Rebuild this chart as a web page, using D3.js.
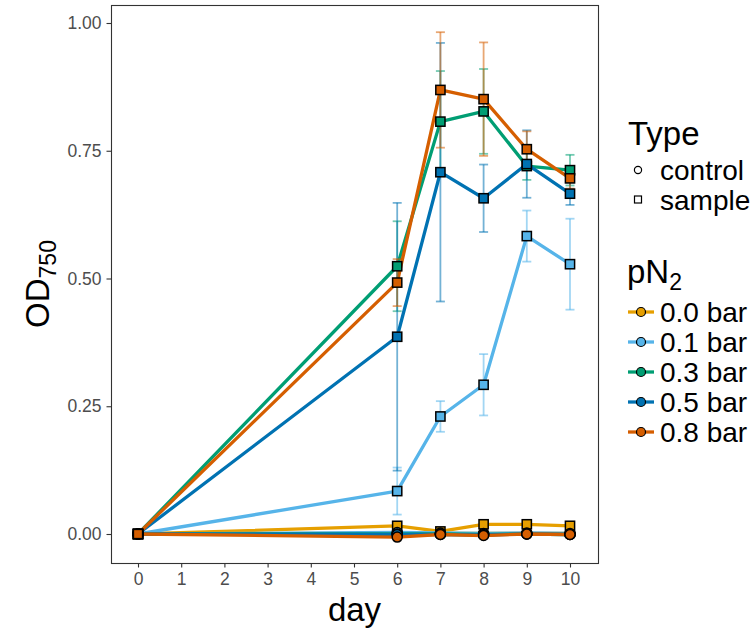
<!DOCTYPE html>
<html>
<head>
<meta charset="utf-8">
<script src="https://cdn.jsdelivr.net/npm/d3@7"></script>
<style>
body { margin: 0; background: #fff; }
text { font-family: "Liberation Sans", Arial, Helvetica, sans-serif; }
</style>
</head>
<body>
<svg id="chart" width="756" height="634"></svg>
<script>
// OD750 growth curves, sample vs control per pN2 level

const days = [0, 6, 7, 8, 9, 10]
const levels = ["0.0 bar", "0.1 bar", "0.3 bar", "0.5 bar", "0.8 bar"]
const colors = ["#E69F00", "#56B4E9", "#009E73", "#0072B2", "#D55E00"]
const types = ["control", "sample"]

// sample means / sd, one row per pN2 level
const sampleMean = [
  [0, 0.016, 0.005, 0.019, 0.019, 0.016],
  [0, 0.084, 0.230, 0.292, 0.583, 0.528],
  [0, 0.524, 0.807, 0.827, 0.720, 0.712],
  [0, 0.386, 0.708, 0.657, 0.724, 0.666],
  [0, 0.492, 0.869, 0.851, 0.753, 0.696]
]
const sampleErr = [
  [0, 0.003, 0.003, 0.003, 0.003, 0.003],
  [0, 0.046, 0.030, 0.060, 0.050, 0.089],
  [0, 0.088, 0.099, 0.083, 0.027, 0.030],
  [0, 0.262, 0.253, 0.066, 0.066, 0.022],
  [0, 0.046, 0.113, 0.111, 0.035, 0.020]
]
const controlMean = [
  [0, 0.001, 0.001, 0.001, 0.001, 0.001],
  [0, 0.003, 0.002, 0.001, 0.002, 0.001],
  [0, 0.000, 0.000, -0.001, 0.000, -0.001],
  [0, -0.001, -0.001, -0.002, 0.000, -0.001],
  [0, -0.006, -0.001, -0.003, 0.000, -0.001]
]

const xTicks = [0, 1, 2, 3, 4, 5, 6, 7, 8, 9, 10]
const yTicks = [0, 0.25, 0.5, 0.75, 1]

// panel box
const panel = {left: 111, right: 598, top: 5, bottom: 563}

const svg = d3.select("#chart")

let x = d3.scaleLinear().domain([0, 10]).range([138, 570])
let y = d3.scaleLinear().domain([0, 1]).range([534, 23])

// build series in draw order: per level, control then sample
let series = []
levels.forEach(function(lv, i) {
  series.push({level: i, type: "control",
    pts: days.map((d, j) => ({day: d, v: controlMean[i][j], e: 0}))})
  series.push({level: i, type: "sample",
    pts: days.map((d, j) => ({day: d, v: sampleMean[i][j], e: sampleErr[i][j]}))})
})

svg.append("rect")
  .attr("x", panel.left + 0.5).attr("y", panel.top + 0.5)
  .attr("width", panel.right - panel.left).attr("height", panel.bottom - panel.top)
  .attr("fill", "white").attr("stroke", "#333").attr("stroke-width", 1.1)

let line = d3.line().x(d => x(d.day)).y(d => y(d.v))

svg.append("g").selectAll("path")
  .data(series)
  .enter().append("path")
  .attr("d", d => line(d.pts))
  .attr("fill", "none")
  .attr("stroke", d => colors[d.level])
  .attr("stroke-width", 3.3)
  .attr("stroke-linejoin", "round")

// error bars (sample only)
let eb = svg.append("g")
series.filter(s => s.type === "sample").forEach(function(s) {
  let g = eb.append("g")
    .attr("stroke", colors[s.level])
    .attr("stroke-opacity", 0.55)
    .attr("stroke-width", 1.8)
  let pts = s.pts.filter(p => p.e > 0)
  g.selectAll(".v").data(pts).enter().append("line")
    .attr("x1", p => x(p.day)).attr("x2", p => x(p.day))
    .attr("y1", p => y(p.v - p.e)).attr("y2", p => y(p.v + p.e))
  g.selectAll(".t").data(pts).enter().append("line")
    .attr("x1", p => x(p.day) - 4.5).attr("x2", p => x(p.day) + 4.5)
    .attr("y1", p => y(p.v + p.e)).attr("y2", p => y(p.v + p.e))
  g.selectAll(".b").data(pts).enter().append("line")
    .attr("x1", p => x(p.day) - 4.5).attr("x2", p => x(p.day) + 4.5)
    .attr("y1", p => y(p.v - p.e)).attr("y2", p => y(p.v - p.e))
})

// points
let pg = svg.append("g")
series.forEach(function(s) {
  if (s.type === "control") {
    pg.append("g").selectAll("circle").data(s.pts).enter().append("circle")
      .attr("cx", p => x(p.day)).attr("cy", p => y(p.v)).attr("r", 5)
      .attr("fill", colors[s.level]).attr("stroke", "black").attr("stroke-width", 1.5)
  } else {
    pg.append("g").selectAll("rect").data(s.pts).enter().append("rect")
      .attr("x", p => x(p.day) - 4.6).attr("y", p => y(p.v) - 4.6)
      .attr("width", 9.2).attr("height", 9.2)
      .attr("fill", colors[s.level]).attr("stroke", "black").attr("stroke-width", 1.5)
  }
})

// axes
let yAxis = d3.axisLeft(y).tickValues(yTicks).tickFormat(d3.format(".2f"))
  .tickSize(4.5).tickPadding(5)
let yg = svg.append("g").attr("transform", "translate(" + panel.left + ",0)").call(yAxis)

let xAxis = d3.axisBottom(x).tickValues(xTicks).tickFormat(d3.format("d"))
  .tickSize(4.5).tickPadding(5)
let xg = svg.append("g").attr("transform", "translate(0," + panel.bottom + ")").call(xAxis)

;[xg, yg].forEach(function(g) {
  g.select(".domain").remove()
  g.selectAll(".tick line").attr("stroke", "#333").attr("stroke-width", 1.1)
  g.selectAll(".tick text").attr("fill", "#4d4d4d")
    .style("font-size", "17.5px").style("font-family", "'Liberation Sans', Arial, sans-serif")
})

// axis titles
svg.append("text")
  .attr("x", (panel.left + panel.right) / 2).attr("y", 621)
  .attr("text-anchor", "middle").style("font-size", "33px")
  .text("day")

let yt = svg.append("text")
  .attr("transform", "translate(49," + ((panel.top + panel.bottom) / 2) + ") rotate(-90)")
  .attr("text-anchor", "middle").style("font-size", "33px")
yt.append("tspan").text("OD")
yt.append("tspan").attr("dy", 7).style("font-size", "23px").text("750")

// legend: Type
let lg = svg.append("g")
lg.append("text").attr("x", 628).attr("y", 145).style("font-size", "33px").text("Type")
types.forEach(function(t, i) {
  let cy = 170 + i * 29.5
  if (t === "control") {
    lg.append("circle").attr("cx", 638).attr("cy", cy).attr("r", 3.6)
      .attr("fill", "white").attr("stroke", "black").attr("stroke-width", 1.2)
  } else {
    lg.append("rect").attr("x", 634.5).attr("y", cy - 3.5).attr("width", 7).attr("height", 7)
      .attr("fill", "white").attr("stroke", "black").attr("stroke-width", 1.2)
  }
  lg.append("text").attr("x", 660).attr("y", cy).attr("dy", "0.36em")
    .style("font-size", "28px").text(t)
})

// legend: pN2
let lt = lg.append("text").attr("x", 627).attr("y", 283).style("font-size", "33px")
lt.append("tspan").text("pN")
lt.append("tspan").attr("dy", 7).style("font-size", "23px").text("2")
levels.forEach(function(lv, i) {
  let cy = 312 + i * 30
  lg.append("line").attr("x1", 628).attr("x2", 654).attr("y1", cy).attr("y2", cy)
    .attr("stroke", colors[i]).attr("stroke-width", 3.3)
  lg.append("circle").attr("cx", 641).attr("cy", cy).attr("r", 4.5)
    .attr("fill", colors[i]).attr("stroke", "black").attr("stroke-width", 1.2)
  lg.append("text").attr("x", 660).attr("y", cy).attr("dy", "0.36em")
    .style("font-size", "28px").text(lv)
})
</script>
</body>
</html>
